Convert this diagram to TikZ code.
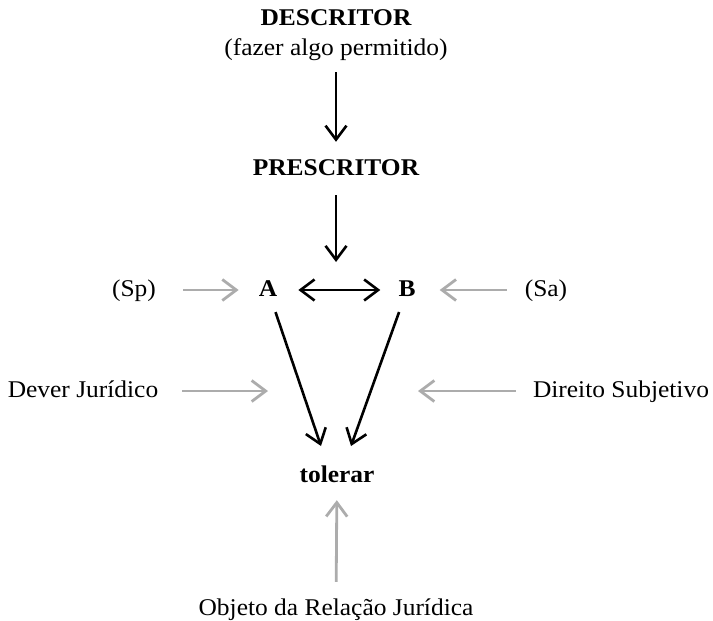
\documentclass[tikz,border=0pt]{standalone}
\usepackage{fontspec}
\setmainfont{Liberation Serif}[FakeStretch=1.06]
\usetikzlibrary{arrows.meta}
\definecolor{lightgrey}{RGB}{172,172,172}
\tikzset{
  lbl/.style={inner sep=0pt, text height=17pt, text depth=5pt, font=\fontsize{24}{27}\selectfont},
  blbl/.style={lbl, font=\fontsize{24}{27}\selectfont\bfseries},
  blackarr/.style={draw=black, line width=2.6pt, -{Straight Barb[length=14pt,width=21pt]}},
  botharr/.style={draw=black, line width=2.6pt, {Straight Barb[length=14pt,width=21pt]}-{Straight Barb[length=14pt,width=21pt]}},
  greyarr/.style={draw=lightgrey, line width=2.8pt, -{Straight Barb[length=14pt,width=21pt]}},
}
\begin{document}
\begin{tikzpicture}[x=1pt,y=-1pt]
\useasboundingbox (0,0) rectangle (713,621);
% top labels
\node[blbl] (desc) at (336,20) {DESCRITOR};
\node[lbl]  (perm) at (336,49) {(fazer algo permitido)};
\node[blbl] (presc) at (336,169) {PRESCRITOR};
\coordinate (meet) at (336,262);
% the two parties and their roles
\node[lbl]  (sp) at (134,290) {(Sp)};
\node[blbl] (a)  at (268,290) {A};
\node[blbl] (b)  at (407,290) {B};
\node[lbl]  (sa) at (546,290) {(Sa)};
\node[lbl]  (dever) at (83,391) {Dever Jurídico};
\node[lbl]  (direito) at (621,391) {Direito Subjetivo};
\node[blbl] (tol) at (337,476) {tolerar};
\node[lbl]  (obj) at (336,609) {Objeto da Relação Jurídica};
% free ends of the open arrows
\coordinate (dvTip) at (268,391);
\coordinate (drTip) at (418,391);
\coordinate (tA) at (321,446);
\coordinate (tB) at (351,446);
% black connectors
\draw[blackarr, shorten <=12pt, shorten >=16pt] (perm) -- (presc);
\draw[blackarr, shorten <=15pt] (presc) -- (meet);
\draw[botharr, shorten <=21pt, shorten >=18pt] (a) -- (b);
\draw[blackarr, shorten <=11.5pt] (a) -- (tA);
\draw[blackarr, shorten <=11.5pt] (b) -- (tB);
% grey connectors
\draw[greyarr, shorten <=27pt, shorten >=20pt] (sp) -- (a);
\draw[greyarr, shorten <=18pt, shorten >=24pt] (sa) -- (b);
\draw[greyarr, shorten <=24pt] (dever.east) -- (dvTip);
\draw[greyarr, shorten <=17pt] (direito.west) -- (drTip);
\draw[greyarr, shorten <=16pt, shorten >=13pt] (obj) -- (tol);
\end{tikzpicture}
\end{document}
